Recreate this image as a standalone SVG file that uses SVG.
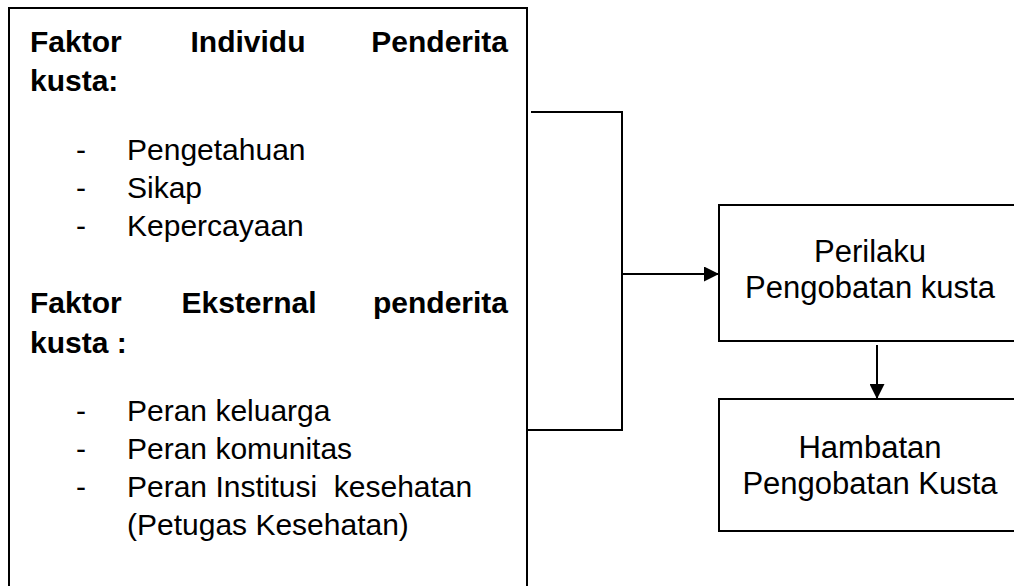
<svg xmlns="http://www.w3.org/2000/svg" width="1014" height="586" viewBox="0 0 1014 586">
<style>
  .box { fill: #fff; stroke: #000; stroke-width: 2; }
  .b { font-family: "Liberation Sans", Arial, sans-serif; font-weight: bold; font-size: 30px; fill: #000; }
  .r { font-family: "Liberation Sans", Arial, sans-serif; font-size: 30px; fill: #000; }
  .c { font-family: "Liberation Sans", Arial, sans-serif; font-size: 31px; fill: #000; text-anchor: middle; }
  .ln { fill: none; stroke: #000; stroke-width: 2; }
</style>
<defs>
  <marker id="ah" viewBox="0 0 15 15" refX="15" refY="7.5" markerWidth="15" markerHeight="15" markerUnits="userSpaceOnUse" orient="auto">
    <polygon points="0,0 15,7.5 0,15" fill="#000"/>
  </marker>
</defs>
<rect width="1014" height="586" fill="#fff"/>

<g id="faktor">
  <rect class="box" x="9" y="8" width="518" height="610"/>
  <text class="b" x="30" y="52">Faktor</text>
  <text class="b" x="248" y="52" text-anchor="middle">Individu</text>
  <text class="b" x="508" y="52" text-anchor="end">Penderita</text>
  <text class="b" x="30" y="91">kusta:</text>
  <text class="r" x="76" y="160">-</text>
  <text class="r" x="127" y="160">Pengetahuan</text>
  <text class="r" x="76" y="198">-</text>
  <text class="r" x="127" y="198">Sikap</text>
  <text class="r" x="76" y="236">-</text>
  <text class="r" x="127" y="236">Kepercayaan</text>
  <text class="b" x="30" y="313">Faktor</text>
  <text class="b" x="249" y="313" text-anchor="middle">Eksternal</text>
  <text class="b" x="508" y="313" text-anchor="end">penderita</text>
  <text class="b" x="30" y="353">kusta :</text>
  <text class="r" x="76" y="421">-</text>
  <text class="r" x="127" y="421">Peran keluarga</text>
  <text class="r" x="76" y="459">-</text>
  <text class="r" x="127" y="459">Peran komunitas</text>
  <text class="r" x="76" y="497">-</text>
  <text class="r" x="127" y="497" xml:space="preserve">Peran Institusi  kesehatan</text>
  <text class="r" x="127" y="535">(Petugas Kesehatan)</text>
</g>

<g id="perilaku">
  <rect class="box" x="719" y="205" width="302" height="136"/>
  <text class="c" x="870" y="262">Perilaku</text>
  <text class="c" x="870" y="298">Pengobatan kusta</text>
</g>

<g id="hambatan">
  <rect class="box" x="719" y="399" width="302" height="132"/>
  <text class="c" x="870" y="458">Hambatan</text>
  <text class="c" x="870" y="494">Pengobatan Kusta</text>
</g>

<g id="connectors">
  <polyline class="ln" points="531,112 622,112 622,430 528,430"/>
  <line class="ln" x1="622" y1="274" x2="719" y2="274" marker-end="url(#ah)"/>
  <line class="ln" x1="877" y1="345" x2="877" y2="399" marker-end="url(#ah)"/>
</g>
</svg>
